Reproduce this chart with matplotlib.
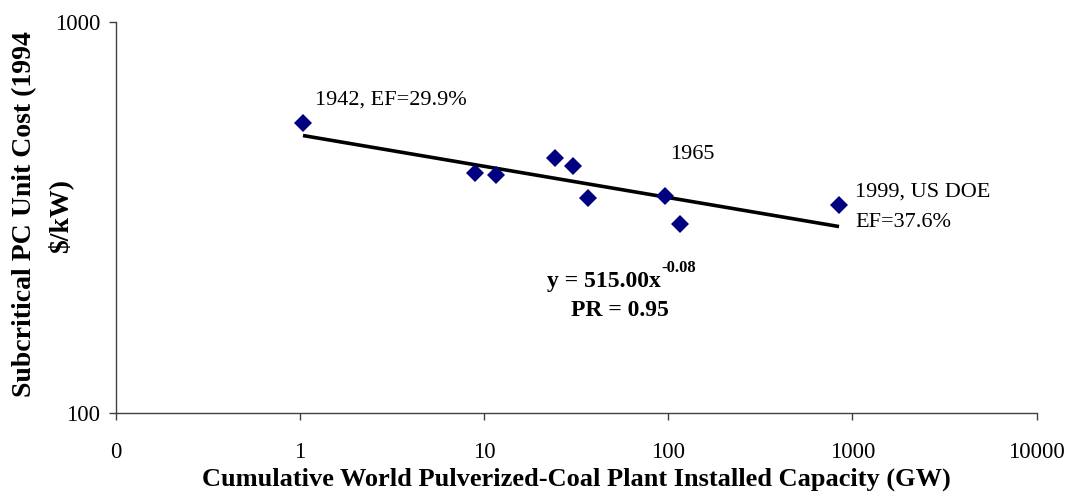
import numpy as np
import matplotlib
matplotlib.use("Agg")
import matplotlib.pyplot as plt
from matplotlib.ticker import FixedLocator, FixedFormatter, NullLocator

# cumulative installed capacity (GW) and unit cost (1994 $/kW)
capacity = [1.04, 8.9, 11.6, 24.3, 30.4, 36.6, 95.9, 115.7, 845]
unit_cost = [552, 412, 407, 450, 429, 355, 360, 305, 341]

# power-law fit  y = a * x^b
fit_a = 515.00
fit_b = -0.08
progress_ratio = 0.95

xtick_vals = [0.1, 1, 10, 100, 1000, 10000]
xtick_labels = ["0", "1", "10", "100", "1000", "10000"]
ytick_vals = [100, 1000]
ytick_labels = ["100", "1000"]

plt.rcParams['font.family'] = ['Liberation Serif', 'DejaVu Serif']

fig = plt.figure(figsize=(10.68, 4.97), dpi=100)
ax = fig.add_axes([0.1083, 0.1684, 0.8624, 0.7867])

ax.set_xscale("log")
ax.set_yscale("log")
ax.set_xlim(0.1, 10000)
ax.set_ylim(100, 1000)

# trend line over the data range
fit_x = np.logspace(np.log10(min(capacity)), np.log10(max(capacity)), 200)
fit_y = fit_a * fit_x ** fit_b
ax.plot(fit_x, fit_y, color="black", lw=2.6, solid_capstyle="butt", zorder=2)

ax.plot(capacity, unit_cost, linestyle="none", marker="D", ms=9.2,
        color="#000080", markeredgewidth=0, zorder=3)

ax.xaxis.set_major_locator(FixedLocator(xtick_vals))
ax.xaxis.set_major_formatter(FixedFormatter(xtick_labels))
ax.xaxis.set_minor_locator(NullLocator())
ax.yaxis.set_major_locator(FixedLocator(ytick_vals))
ax.yaxis.set_major_formatter(FixedFormatter(ytick_labels))
ax.yaxis.set_minor_locator(NullLocator())

for side in ["top", "right"]:
    ax.spines[side].set_visible(False)
for side in ["left", "bottom"]:
    ax.spines[side].set_color("#404040")
    ax.spines[side].set_linewidth(1.0)

ax.tick_params(axis="x", direction="out", length=5, width=1, color="#404040",
               labelsize=16.5, pad=16)
ax.tick_params(axis="y", direction="out", length=5, width=1, color="#404040",
               labelsize=16.5, pad=6)

ax.set_xlabel("Cumulative World Pulverized-Coal Plant Installed Capacity (GW)",
              fontsize=19, fontweight="bold", labelpad=3)
fig.text(0.023, 0.569, "Subcritical PC Unit Cost (1994", rotation=90,
         fontsize=20, fontweight="bold", ha="center", va="center")
fig.text(0.056, 0.565, "$/kW)", rotation=90,
         fontsize=20, fontweight="bold", ha="center", va="center")

# point annotations
fig.text(0.295, 0.799, "1942, EF=29.9%", fontsize=16, ha="left", va="center")
fig.text(0.627, 0.690, "1965", fontsize=16, ha="left", va="center")
fig.text(0.801, 0.614, "1999, US DOE", fontsize=16, ha="left", va="center")
fig.text(0.801, 0.553, "EF=37.6%", fontsize=16, ha="left", va="center")

# fit equation and progress ratio
eq = fig.text(0.5119, 0.433, "y = %.2fx" % fit_a, fontsize=17,
              fontweight="bold", ha="left", va="center")
renderer = fig.canvas.get_renderer()
eq_box = eq.get_window_extent(renderer).transformed(fig.transFigure.inverted())
fig.text(eq_box.x1 + 0.0005, 0.461, "%.2f" % fit_b, fontsize=12,
         fontweight="bold", ha="left", va="center")
fig.text(0.5805, 0.376, "PR = %.2f" % progress_ratio, fontsize=17,
         fontweight="bold", ha="center", va="center")

fig.savefig("out.png", dpi=100)
